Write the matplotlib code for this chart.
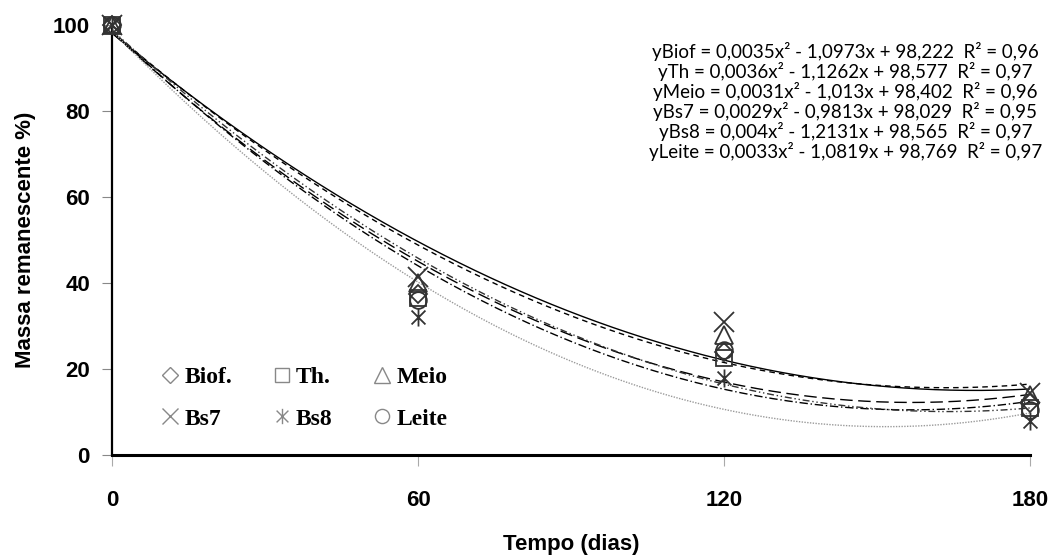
import numpy as np
import matplotlib.pyplot as plt
from matplotlib.path import Path
from matplotlib.lines import Line2D

# dados
dias = [0, 60, 120, 180]
biof = [100, 37.5, 24.0, 12.0]
th = [100, 36.5, 22.5, 11.0]
meio = [100, 40.0, 28.0, 14.0]
bs7 = [100, 41.5, 31.0, 14.5]
bs8 = [100, 32.0, 18.0, 8.0]
leite = [100, 36.0, 24.5, 10.5]

# coeficientes das regressoes (a, b, c) -> a*x^2 + b*x + c
coef_biof = [0.0035, -1.0973, 98.222]
coef_th = [0.0036, -1.1262, 98.577]
coef_meio = [0.0031, -1.013, 98.402]
coef_bs7 = [0.0029, -0.9813, 98.029]
coef_bs8 = [0.004, -1.2131, 98.565]
coef_leite = [0.0033, -1.0819, 98.769]

equacoes = [
    "yBiof = 0,0035x² - 1,0973x + 98,222  R² = 0,96",
    "yTh = 0,0036x² - 1,1262x + 98,577  R² = 0,97",
    "yMeio = 0,0031x² - 1,013x + 98,402  R² = 0,96",
    "yBs7 = 0,0029x² - 0,9813x + 98,029  R² = 0,95",
    "yBs8 = 0,004x² - 1,2131x + 98,565  R² = 0,97",
    "yLeite = 0,0033x² - 1,0819x + 98,769  R² = 0,97",
]

# marcador X com traco vertical (Bs8)
star6 = Path([(-1, -1), (1, 1), (-1, 1), (1, -1), (0, -1.3), (0, 1.3)],
             [Path.MOVETO, Path.LINETO, Path.MOVETO, Path.LINETO, Path.MOVETO, Path.LINETO])

series = [
    ("Biof.", biof, coef_biof, "D", (0, (9, 4)), "black", 9),
    ("Th.", th, coef_th, "s", (0, (6, 2, 1, 2)), "black", 12),
    ("Meio", meio, coef_meio, "^", (0, (4, 3)), "black", 13),
    ("Bs7", bs7, coef_bs7, "x", "-", "black", 14),
    ("Bs8", bs8, coef_bs8, star6, (0, (1, 1)), "#9a9a9a", 13),
    ("Leite", leite, coef_leite, "o", (0, (5, 2, 1, 2, 1, 2)), "#333333", 12),
]

fig = plt.figure(figsize=(10.58, 5.6), dpi=100)
ax = fig.add_axes([0.106, 0.1875, 0.868, 0.768])

xs = np.linspace(0, 180, 300)
for nome, vals, coef, mk, ls, lc, ms in series:
    ax.plot(xs, np.polyval(coef, xs), color=lc, linestyle=ls, lw=1.0)
for nome, vals, coef, mk, ls, lc, ms in series:
    ax.plot(dias, vals, linestyle="none", marker=mk, markersize=ms,
            markerfacecolor="none", markeredgecolor="#333333", markeredgewidth=1.3,
            clip_on=False, zorder=3)

ax.set_xlim(0, 180)
ax.set_ylim(0, 100)
ax.set_xticks([0, 60, 120, 180])
ax.set_yticks([0, 20, 40, 60, 80, 100])
ax.spines["top"].set_visible(False)
ax.spines["right"].set_visible(False)
ax.spines["bottom"].set_linewidth(2.2)
ax.spines["left"].set_linewidth(1.6)
ax.tick_params(axis="x", direction="out", length=8, color="#aaaaaa", pad=17)
ax.tick_params(axis="y", direction="out", length=7, color="#888888", pad=9)
for lab in ax.get_xticklabels() + ax.get_yticklabels():
    lab.set_fontfamily("Liberation Sans")
    lab.set_fontweight("bold")
    lab.set_fontsize(16)

ax.set_xlabel("Tempo (dias)", fontfamily="Liberation Sans", fontweight="bold",
              fontsize=16, labelpad=17)
ax.set_ylabel("Massa remanescente %)", fontfamily="Liberation Sans", fontweight="bold",
              fontsize=16, labelpad=12)

fig.text(0.799, 0.925, "\n".join(equacoes), ha="center", va="top",
         fontfamily="Lato", fontsize=13.5, linespacing=1.06)

# legenda em duas linhas
ordem = [0, 3, 1, 4, 2, 5]
handles = []
for i in ordem:
    nome, vals, coef, mk, ls, lc, ms = series[i]
    handles.append(Line2D([], [], linestyle="none", marker=mk, markersize=ms * 0.85,
                          markerfacecolor="none", markeredgecolor="#888888",
                          markeredgewidth=1.0, label=nome))
leg = ax.legend(handles=handles, ncol=3, loc="upper left",
                bbox_to_anchor=(0.03, 0.255), frameon=False,
                prop={"family": "Liberation Serif", "weight": "bold", "size": 17},
                handlelength=0.8, handletextpad=0.2, columnspacing=1.7,
                labelspacing=0.85)

fig.savefig("out.png", dpi=100)
